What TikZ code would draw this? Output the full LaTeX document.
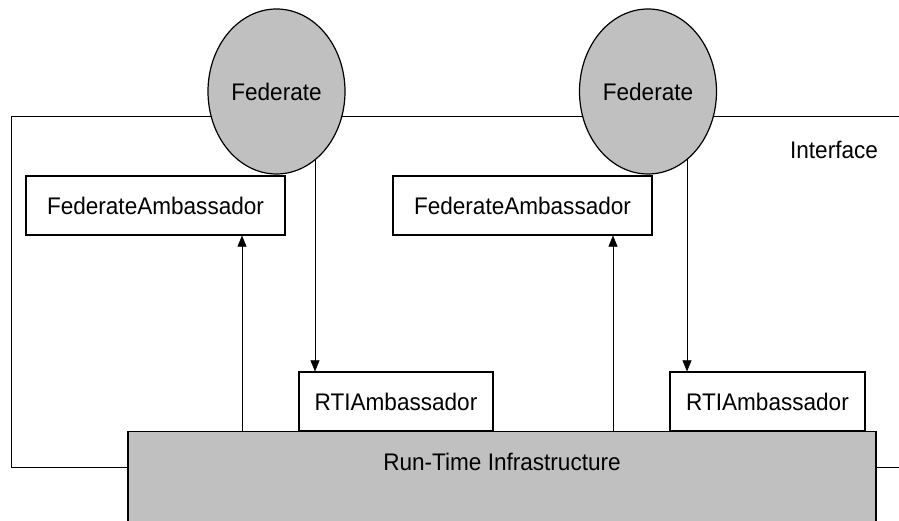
\documentclass[tikz,border=0pt]{standalone}
\usepackage{fontspec}
\setmainfont{Liberation Sans}[FakeStretch=0.94]
\usetikzlibrary{shapes.geometric,arrows.meta,backgrounds}
\definecolor{fedgray}{RGB}{192,192,192}

\begin{document}
\begin{tikzpicture}[x=1pt, y=-1pt, line width=1.2pt,
    every node/.style = {draw, align=center, inner sep=0pt, fill=white, font=\fontsize{24}{28}\selectfont},
    call/.style = {-{Triangle[length=11pt, width=9pt]}}]
  \useasboundingbox (0,0) rectangle (899,521);

  \node (fed1) at (276.5, 91.5) [ellipse, fill=fedgray, minimum width=137, minimum height=165] {Federate};
  \node (fed2) at (648, 91.5) [ellipse, fill=fedgray, minimum width=137, minimum height=165] {Federate};
  \node (iface) at (834, 150) [draw=none, fill=none] {Interface};

  \node (fa1) at (155.5, 205.5) [minimum width=259, minimum height=59] {FederateAmbassador};
  \node (fa2) at (522.5, 205.5) [minimum width=259, minimum height=59] {FederateAmbassador};

  \node (rtia1) at (396, 401.5) [minimum width=194, minimum height=59] {RTIAmbassador};
  \node (rtia2) at (767.5, 401.5) [minimum width=195, minimum height=59] {RTIAmbassador};

  \node (rti) at (502, 431) [anchor=north, fill=fedgray, minimum width=748, minimum height=120] {};
  \node (rtitext) at (502, 462) [draw=none, fill=none] {Run-Time Infrastructure};

  \coordinate (ifl) at (11, 116);
  \coordinate (ifr) at (899, 116);
  \coordinate (ibl) at (11, 467);
  \coordinate (ibr) at (899, 467);
  \coordinate (up1) at (242, 431);
  \coordinate (up2) at (613, 431);
  \coordinate (dn1) at (315, 92);
  \coordinate (dn2) at (687, 92);

  \begin{scope}[on background layer]
    \draw (ifr) -- (ifl) -- (ibl) -- (ibl -| rti.west);
    \draw (ibr -| rti.east) -- (ibr);
    \draw[call] (up1) -- (up1 |- fa1.south);
    \draw[call] (up2) -- (up2 |- fa2.south);
    \draw[call] (dn1) -- (dn1 |- rtia1.north);
    \draw[call] (dn2) -- (dn2 |- rtia2.north);
  \end{scope}
\end{tikzpicture}
\end{document}
